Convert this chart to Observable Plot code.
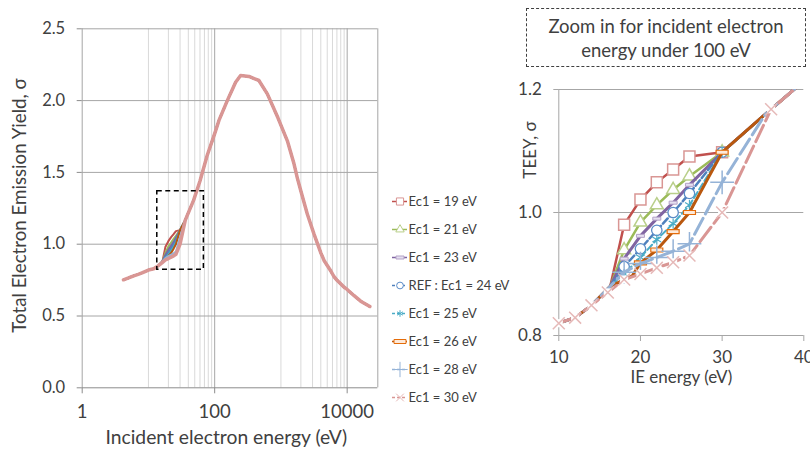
<!DOCTYPE html>
<html><head><meta charset="utf-8">
<script src="https://cdn.jsdelivr.net/npm/d3@7"></script>
<script src="https://cdn.jsdelivr.net/npm/@observablehq/plot@0.6"></script>
<style>
body{margin:0;background:#fff;}
#wrap{position:relative;width:810px;height:453px;font-family:Lato,sans-serif;color:#404040;overflow:hidden;background:#fff}
#left{position:absolute;left:0;top:0}
#right{position:absolute;left:500px;top:0}
#legend{position:absolute;left:385px;top:183px}
#zbox{position:absolute;left:526px;top:8px;width:278px;border:1px dashed #404040;text-align:center;font-size:18.5px;line-height:24px;padding-top:5px;box-sizing:content-box;height:52px}
</style></head>
<body><div id="wrap"><div id="left"></div><div id="right"></div><div id="legend"></div>
<div id="zbox">Zoom in for incident electron<br>energy under 100 eV</div></div>
<script>
// ---- data ----
const seriesNames = ["Ec1 = 19 eV","Ec1 = 21 eV","Ec1 = 23 eV","REF : Ec1 = 24 eV","Ec1 = 25 eV","Ec1 = 26 eV","Ec1 = 28 eV","Ec1 = 30 eV"];
// Ec1 = 30 eV curve (shared by all series outside ~16–36 eV)
const baseEnergy = [4.2,5,6,7,8,10,12,14,16,18,20,22,24,26,30,36,48,60,77,100,116,155,207,246,329,465,623,901,1250,1575,1770,2000,2500,3160,4000,4500,5600,6300,7100,9000,10000,12600,16000,22000];
const baseYield  = [0.752,0.765,0.78,0.79,0.80,0.82,0.829,0.849,0.87,0.891,0.90,0.91,0.919,0.93,1.0,1.168,1.305,1.44,1.618,1.77,1.862,2.0,2.128,2.175,2.168,2.14,2.047,1.88,1.72,1.56,1.46,1.37,1.21,1.07,0.94,0.885,0.817,0.775,0.747,0.70,0.685,0.643,0.603,0.566];
const midEnergy  = [16.3,18,20,22,24,26,30,35.3];
const midEnergy26 = [16.3,19,20,22,24,26,30,35.3];
const ec19 = [0.88,0.98,1.021,1.049,1.07,1.091,1.098,1.16];
const ec21 = [0.88,0.939,0.984,1.012,1.037,1.059,1.098,1.16];
const ec23 = [0.88,0.925,0.962,0.99,1.016,1.045,1.098,1.16];
const ec24 = [0.88,0.912,0.941,0.971,1.0,1.031,1.098,1.16];
const ec25 = [0.88,0.90,0.927,0.956,0.982,1.012,1.098,1.16];
const ec26 = [0.88,0.897,0.918,0.939,0.969,1.0,1.098,1.16];
const ec28 = [0.88,0.903,0.917,0.927,0.937,0.949,1.049,1.16];
const markerFrom = [1,1,1,1,1,2,1];   // first modified point carrying a marker
const markerTo = 6;                    // last marker index (30 eV)

const yTicksL = [0,0.5,1,1.5,2,2.5];
const xTicksL = [1,100,10000];
const minorGridL = [10,20,30,40,50,60,70,80,90,1000,2000,3000,4000,5000,6000,7000,8000,9000];
const majorGridL = [100,10000];
const xMaxL = 29000;
const zoomBox = [{x1:13.6, x2:68.7, y1:0.822, y2:1.369}];
const xTicksR = [10,20,30,40];
const yTicksR = [0.8,1.0,1.2];

// ---- build ----
const mids = [[midEnergy,ec19],[midEnergy,ec21],[midEnergy,ec23],[midEnergy,ec24],[midEnergy,ec25],[midEnergy26,ec26],[midEnergy,ec28]];
function fullSeries(eArr, sArr){
  const pts=[];
  baseEnergy.forEach((e,i)=>{ if(e<16) pts.push({e,s:baseYield[i]}); });
  eArr.forEach((e,i)=>pts.push({e,s:sArr[i]}));
  baseEnergy.forEach((e,i)=>{ if(e>36) pts.push({e,s:baseYield[i]}); });
  return pts;
}
const basePts = baseEnergy.map((e,i)=>({e,s:baseYield[i]}));
const series = mids.map(([e,s])=>fullSeries(e,s)).concat([basePts]);
const markerPts = mids.map(([e,s],k)=>e.map((x,i)=>({e:x,s:s[i]})).slice(markerFrom[k],markerTo+1))
  .concat([basePts.filter(d=>d.e>=10 && d.e<=40)]);

const dashSym = (w,h)=>({draw(ctx){ctx.moveTo(-w/2,-h/2);ctx.lineTo(w/2,-h/2);ctx.lineTo(w/2,h/2);ctx.lineTo(-w/2,h/2);ctx.closePath();}});
const styles = [
 {stroke:"#c0504d", w:2.5, dash:null,  symbol:"square",   r:6.2, mStroke:"#d99694", mFill:"white",  mW:1.5},
 {stroke:"#9bbb59", w:2.5, dash:null,  symbol:"triangle", r:4.8, mStroke:"#b9cf8a", mFill:"white",  mW:1.5},
 {stroke:"#8064a2", w:3,   dash:null,  symbol:dashSym(8,3), r:4, mStroke:"#b3a2c7", mFill:"#e5dff0", mW:1},
 {stroke:"#4f81bd", w:2.5, dash:"7,3", symbol:"circle",   r:5.2, mStroke:"#5b8cc8", mFill:"white",  mW:1.3},
 {stroke:"#4bacc6", w:2,   dash:"7,3", symbol:"asterisk", r:4.8, mStroke:"#4bacc6", mFill:"none",   mW:1.2},
 {stroke:"#b9580f", w:3,   dash:null,  symbol:dashSym(12,4), r:4, mStroke:"#e46c0a", mFill:"#fde9d9", mW:1.2},
 {stroke:"#95b3d7", w:3,   dash:"18,5",symbol:"plus",     r:7.7, mStroke:"#95b3d7", mFill:"none",   mW:1.5},
 {stroke:"#d99694", w:3,   dash:"18,5",symbol:"times",    r:5.5, mStroke:"#e6b9b8", mFill:"none",   mW:1.5, cover:true}
];
const TXT = "#404040", GRID = "#a6a6a6", MINOR = "#d9d9d9";
const baseStyle = {fontFamily:"Lato, sans-serif", background:"transparent", color:TXT, overflow:"visible"};

// ---- left chart ----
const left = Plot.plot({
  width:385, height:453, marginLeft:81.7, marginRight:7.7, marginTop:28.3, marginBottom:65.7,
  style: baseStyle,
  x:{type:"log", domain:[1,xMaxL]},
  y:{domain:[0,2.5]},
  marks:[
    Plot.ruleX(minorGridL,{stroke:MINOR, strokeWidth:1}),
    Plot.ruleX(majorGridL,{stroke:GRID, strokeWidth:1}),
    Plot.ruleX([xMaxL],{stroke:GRID, strokeWidth:1}),
    Plot.ruleY(yTicksL.filter(d=>d>0),{stroke:GRID, strokeWidth:1}),
    Plot.ruleX([1],{stroke:GRID}),
    Plot.ruleY([0],{stroke:"#8c8c8c"}),
    ...series.map((pts,i)=>Plot.line(pts,{x:"e", y:"s", stroke:styles[i].stroke, strokeWidth: i===7?3.5:2})),
    Plot.rect(zoomBox,{x1:"x1",x2:"x2",y1:"y1",y2:"y2", fill:"none", stroke:"#000", strokeWidth:1.5, strokeDasharray:"5,3.5"}),
    Plot.axisX({ticks:xTicksL, tickFormat:d=>String(d), tickSize:6, tickPadding:11, fontSize:18.5, fill:TXT, stroke:"#8c8c8c", label:null}),
    Plot.axisY({ticks:yTicksL, tickFormat:d3.format(".1f"), tickSize:5, tickPadding:12, fontSize:16.5, fill:TXT, stroke:"#8c8c8c", label:null}),
    Plot.text(["Incident electron energy (eV)"],{text:d=>d, frameAnchor:"bottom", textAnchor:"middle", dy:56.5, dx:-3.7, fontSize:19.3, fill:TXT}),
    Plot.text(["Total Electron Emission Yield, σ"],{text:d=>d, frameAnchor:"left", textAnchor:"middle", rotate:-90, dx:-61.7, dy:-2.8, fontSize:18.7, fill:TXT})
  ]
});
document.getElementById("left").appendChild(left);

// ---- right chart ----
const rightMarks = [
  Plot.ruleY([1.0,1.2],{stroke:GRID}),
  Plot.ruleX([10],{stroke:GRID}),
  Plot.ruleY([0.8],{stroke:GRID})
];
series.forEach((pts,i)=>{
  const st = styles[i];
  rightMarks.push(Plot.line(pts,{x:"e", y:"s", stroke:st.stroke, strokeWidth:st.w, strokeDasharray:st.dash, clip:true}));
  if (st.cover) rightMarks.push(Plot.dot(markerPts[i],{x:"e", y:"s", symbol:"square", r:4.6, fill:"white", stroke:"none"}));
  rightMarks.push(Plot.dot(markerPts[i],{x:"e", y:"s", symbol:st.symbol, r:st.r, stroke:st.mStroke, fill:st.mFill, strokeWidth:st.mW}));
});
rightMarks.push(
  Plot.axisX({ticks:xTicksR, tickSize:6, tickPadding:9, fontSize:17, fill:TXT, stroke:GRID, label:null}),
  Plot.axisY({ticks:yTicksR, tickFormat:d3.format(".1f"), tickSize:5, tickPadding:12, fontSize:17, fill:TXT, stroke:GRID, label:null}),
  Plot.text(["IE energy (eV)"],{text:d=>d, frameAnchor:"bottom", textAnchor:"middle", dy:47, fontSize:17, fill:TXT}),
  Plot.text(["TEEY, σ"],{text:d=>d, frameAnchor:"top-left", textAnchor:"middle", rotate:-90, dx:-35.3, dy:60.5, fontSize:17, fill:TXT})
);
const right = Plot.plot({
  width:310, height:453, marginLeft:58.3, marginRight:6.7, marginTop:89, marginBottom:118,
  style: baseStyle,
  x:{domain:[10,40]}, y:{domain:[0.8,1.2]},
  marks: rightMarks
});
document.getElementById("right").appendChild(right);

// ---- legend ----
const legMarks = [];
styles.forEach((st,i)=>{
  legMarks.push(Plot.ruleY([seriesNames[i]],{y:d=>d, x1:7, x2:22, stroke:st.stroke, strokeWidth:1.5, strokeDasharray: st.dash? "3,2": null}));
  legMarks.push(Plot.dot([seriesNames[i]],{y:d=>d, x:14.5, symbol:st.symbol, r:st.r*0.65, stroke:st.mStroke, fill:st.mFill, strokeWidth:1}));
});
legMarks.push(Plot.text(seriesNames,{y:d=>d, x:23, text:d=>d, textAnchor:"start", fontSize:13, fill:TXT}));
const legend = Plot.plot({
  width:125, height:240, margin:0, style: baseStyle,
  x:{domain:[0,125], range:[0,125], axis:null},
  y:{type:"point", domain:seriesNames, range:[15.5,216], padding:0, axis:null},
  marks: legMarks
});
document.getElementById("legend").appendChild(legend);
</script></body></html>
